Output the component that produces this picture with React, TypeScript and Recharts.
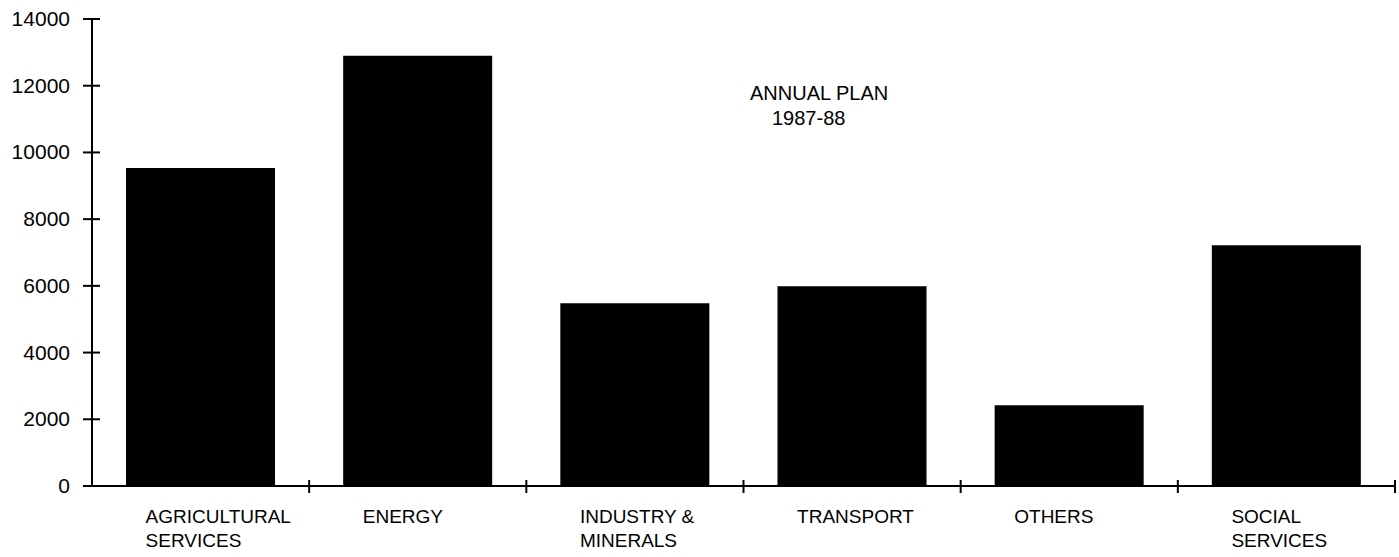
import { BarChart, Bar, XAxis, YAxis } from "recharts"

const categories = ["AGRICULTURAL\nSERVICES", "ENERGY", "INDUSTRY &\nMINERALS", "TRANSPORT", "OTHERS", "SOCIAL\nSERVICES"]
const outlay = [9530, 12900, 5480, 5990, 2420, 7220]
const yTicks = [0, 2000, 4000, 6000, 8000, 10000, 12000, 14000]
const titleLines = ["ANNUAL PLAN", "1987-88"]

const data = categories.map((name, i) => ({ name, value: outlay[i] }))

const W = 1399
const H = 557
const Y_W = 92
const RIGHT = 4
const BAND = (W - Y_W - RIGHT) / categories.length
const FONT = "'Liberation Sans', Arial, Helvetica, sans-serif"

function XTick({ x, y, payload }: any) {
  const lines = String(payload.value).split("\n")
  return (
    <g>
      <line x1={x + BAND / 2} x2={x + BAND / 2} y1={y - 6} y2={y + 7} stroke="#000" strokeWidth={2} />
      {lines.map((l, i) => (
        <text key={i} x={x - 55} y={y + 37 + i * 24} textAnchor="start" fontSize={19} fill="#000" fontFamily={FONT}>
          {l}
        </text>
      ))}
    </g>
  )
}

function YTick({ x, y, payload }: any) {
  return (
    <g>
      <line x1={x - 9} x2={x + 8} y1={y} y2={y} stroke="#000" strokeWidth={2} />
      <text x={x - 22} y={y + 7} textAnchor="end" fontSize={21} fill="#000" fontFamily={FONT}>
        {payload.value}
      </text>
    </g>
  )
}

export default function App() {
  return (
    <div style={{ position: "absolute", left: 0, top: 0, width: W, height: H, background: "#fff" }}>
      <BarChart width={W} height={H} data={data} margin={{ top: 19, right: RIGHT, left: 0, bottom: 0 }}>
        <XAxis
          dataKey="name"
          height={71}
          interval={0}
          tickSize={0}
          tickMargin={0}
          tick={<XTick />}
          axisLine={{ stroke: "#000", strokeWidth: 2 }}
        />
        <YAxis
          width={Y_W}
          domain={[0, 14000]}
          ticks={yTicks}
          interval={0}
          tickSize={0}
          tickMargin={0}
          tick={<YTick />}
          axisLine={{ stroke: "#000", strokeWidth: 2 }}
        />
        <Bar dataKey="value" fill="#000" barSize={149} isAnimationActive={false} />
      </BarChart>
      <svg width={W} height={H} style={{ position: "absolute", left: 0, top: 0, pointerEvents: "none" }}>
        <text x={750} y={100} fontSize={20} fill="#000" fontFamily={FONT}>{titleLines[0]}</text>
        <text x={772} y={125} fontSize={20} fill="#000" fontFamily={FONT}>{titleLines[1]}</text>
      </svg>
    </div>
  )
}
